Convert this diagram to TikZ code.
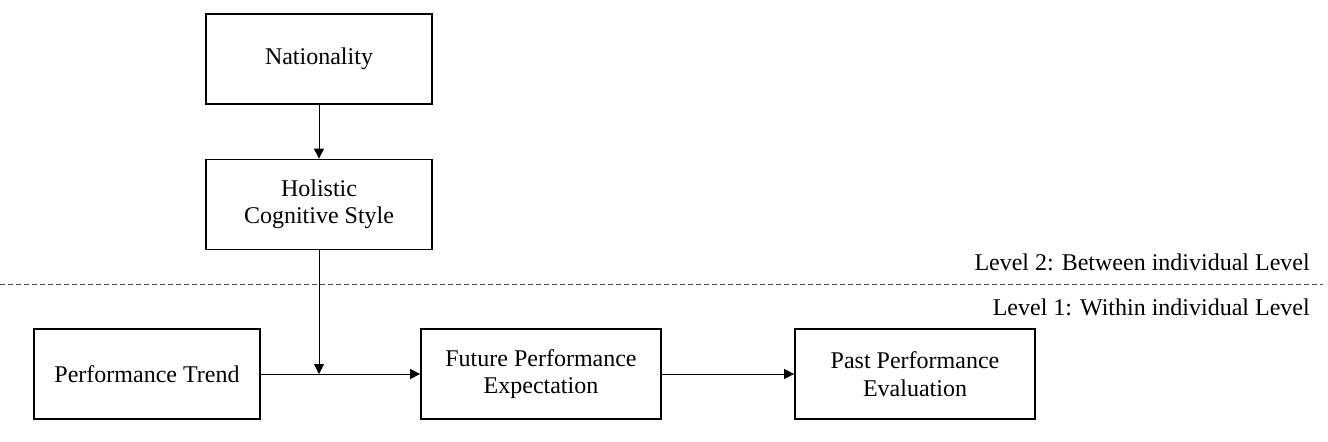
\documentclass[tikz,border=0pt]{standalone}
\usepackage{fontspec}
\setmainfont{Liberation Serif}
\usetikzlibrary{arrows.meta}

\begin{document}
\begin{tikzpicture}[
  x=0.75pt, y=-0.75pt,
  box/.style={draw, line width=1.3pt, minimum width=169.5pt, minimum height=67.5pt, align=center, inner sep=0pt, font=\fontsize{18}{20.5}\selectfont},
  widebox/.style={box, minimum width=180pt},
  >={Triangle[length=7.5pt, width=7.5pt]},
  link/.style={->, line width=0.7pt},
  levelsep/.style={dash pattern=on 3.5pt off 2.5pt, line width=0.6pt, black!70},
  levellabel/.style={anchor=east, inner sep=0pt, font=\fontsize{18}{20.5}\selectfont}
]
\useasboundingbox (0,0) rectangle (1328,442);

% --- Poziom 2: zmienne miedzyosobnicze ---
\node[box] (nation) at (319,59) {Nationality};
\node[box] (holistic) at (319,204.5) {Holistic\\Cognitive Style};

% --- Poziom 1: zmienne wewnatrzosobnicze ---
\node[box] (trend) at (147,374) {Performance Trend};
\node[widebox] (future) at (541,374) {Future Performance\\Expectation};
\node[widebox] (past) at (915,374) {Past Performance\\Evaluation};

% --- Linia podzialu poziomow ---
\coordinate (sepL) at (0,284);
\coordinate (sepR) at (1323,284);
\draw[levelsep] (sepL) -- (sepR);
\node[levellabel] (lvltwo) at (1310,262) {Level 2: Between individual Level};
\node[levellabel] (lvlone) at (1310,307) {Level 1: Within individual Level};

% --- Strzalki ---
\coordinate (moder) at (holistic.south |- trend.east);
\draw[link] (nation) -- (holistic);
\draw[link] (holistic) -- (moder);
\draw[link] (trend) -- (future);
\draw[link] (future) -- (past);

\end{tikzpicture}
\end{document}
